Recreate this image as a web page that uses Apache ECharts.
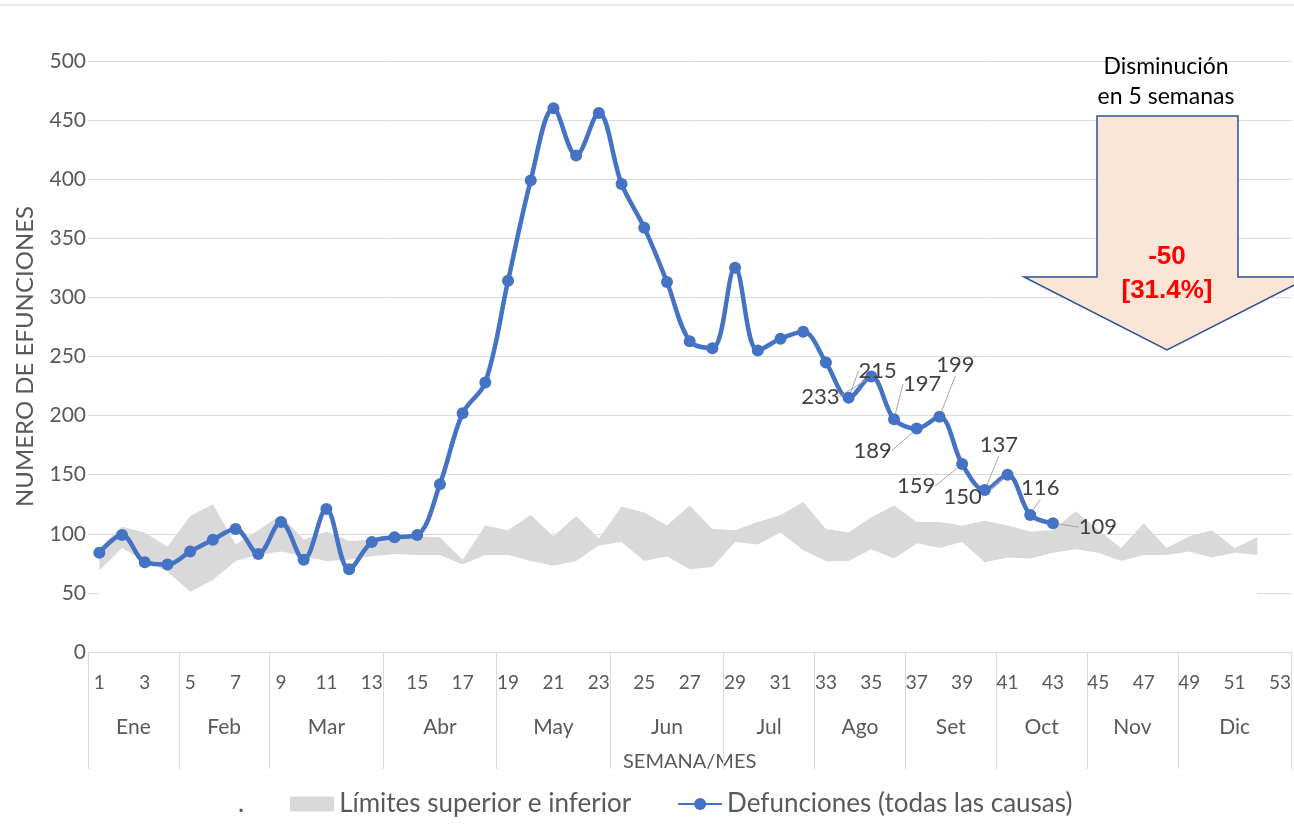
<!DOCTYPE html>
<html>
<head>
<meta charset="utf-8">
<script src="https://cdn.jsdelivr.net/npm/echarts@6/dist/echarts.min.js"></script>
<style>
  html, body { margin: 0; padding: 0; background: #fff; }
  #main { width: 1294px; height: 837px; }
</style>
</head>
<body>
<div id="main"></div>
<script>
// semanas 1..53
const weeks = ['1','2','3','4','5','6','7','8','9','10','11','12','13','14','15','16','17','18','19','20',
  '21','22','23','24','25','26','27','28','29','30','31','32','33','34','35','36','37','38','39','40',
  '41','42','43','44','45','46','47','48','49','50','51','52','53']

const months = ['Ene','Feb','Mar','Abr','May','Jun','Jul','Ago','Set','Oct','Nov','Dic']
// primera semana (índice) de cada mes, y fin de año
const monthStarts = [0, 4, 8, 13, 18, 23, 28, 32, 36, 40, 44, 48, 53]

// Defunciones (todas las causas), semanas 1-43
const deaths = [84, 99, 76, 74, 85, 95, 104, 83, 110, 78,
  121, 70, 93, 97, 99, 142, 202, 228, 314, 399,
  460, 420, 456, 396, 359, 313, 263, 257, 325, 255,
  265, 271, 245, 215, 233, 197, 189, 199, 159, 137,
  150, 116, 109]

// límites inferior / superior, semanas 1-52
const lowerLimit = [69, 88, 77, 68, 51, 61, 77, 82, 85, 81,
  77, 78, 81, 83, 82, 82, 74, 82, 82, 77,
  73, 77, 90, 93, 77, 81, 70, 72, 93, 91,
  101, 86, 77, 77, 87, 79, 92, 88, 93, 76,
  80, 79, 84, 87, 84, 77, 82, 82, 85, 80,
  84, 82]
const upperLimit = [88, 106, 101, 89, 115, 125, 91, 103, 116, 95,
  102, 94, 95, 98, 98, 97, 78, 107, 103, 116,
  98, 115, 96, 123, 118, 107, 124, 104, 103, 110,
  116, 127, 104, 101, 114, 124, 110, 110, 107, 111,
  107, 102, 103, 119, 103, 88, 109, 88, 98, 103,
  88, 97]

// semanas con etiqueta de dato (desde este índice)
const labeledFrom = 33

const font = 'Lato'

const chart = echarts.init(document.getElementById('main'))

const monthCenters = months.map((m, i) => (monthStarts[i] + monthStarts[i + 1]) / 2)
const bandDiff = upperLimit.map((u, i) => u - lowerLimit[i])

// desplazamiento de etiquetas (dx, dy) respecto al punto
const labelOffsets = {
  33: [29, -27], 34: [-51, 20], 35: [28, -35], 36: [-44, 22], 37: [16, -52],
  38: [-46, 22], 39: [14, -45], 40: [-45, 22], 41: [10, -27], 42: [45, 4]
}

const deathData = deaths.map((v, i) => i >= labeledFrom ? { value: v, label: { show: true } } : v)

const option = {
  backgroundColor: '#fff',
  animation: false,
  textStyle: { fontFamily: font },
  grid: { left: 88, right: 0, top: 61, bottom: 185 },
  legend: {
    left: 184,
    top: 786,
    itemGap: 46,
    itemWidth: 44,
    itemHeight: 15,
    textStyle: { color: '#595959', fontSize: 26, fontFamily: font },
    data: [
      { name: '.', icon: 'rect', itemStyle: { color: '#fff' } },
      { name: 'Límites superior e inferior', icon: 'rect', itemStyle: { color: '#d9d9d9' } },
      { name: 'Defunciones (todas las causas)' }
    ]
  },
  xAxis: [{
    type: 'category',
    data: weeks,
    boundaryGap: true,
    axisLine: { lineStyle: { color: '#d9d9d9' } },
    axisTick: { show: false },
    axisLabel: { interval: 1, color: '#595959', fontSize: 19, margin: 21 },
    name: 'SEMANA/MES',
    nameLocation: 'middle',
    nameGap: 100,
    nameTextStyle: { color: '#595959', fontSize: 20 }
  }, {
    type: 'value',
    min: 0,
    max: 53,
    position: 'bottom',
    axisLine: { show: false },
    splitLine: { show: false },
    axisTick: { show: true, customValues: monthStarts, length: 117, lineStyle: { color: '#d9d9d9' } },
    axisLabel: {
      customValues: monthCenters,
      formatter: (v) => months[monthCenters.indexOf(v)],
      color: '#595959',
      fontSize: 21,
      margin: 65
    }
  }],
  yAxis: {
    type: 'value',
    min: 0,
    max: 500,
    interval: 50,
    axisLine: { show: false },
    axisTick: { show: false },
    splitLine: { lineStyle: { color: '#d9d9d9' } },
    axisLabel: { color: '#595959', fontSize: 21, margin: 2 },
    name: 'NUMERO DE EFUNCIONES',
    nameLocation: 'middle',
    nameGap: 51,
    nameTextStyle: { color: '#595959', fontSize: 24 }
  },
  series: [{
    name: '.',
    type: 'line',
    data: lowerLimit,
    stack: 'band',
    symbol: 'none',
    silent: true,
    lineStyle: { width: 0 },
    itemStyle: { color: '#fff' },
    areaStyle: { color: '#fff', opacity: 1 },
    z: 1
  }, {
    name: 'Límites superior e inferior',
    type: 'line',
    data: bandDiff,
    stack: 'band',
    symbol: 'none',
    silent: true,
    lineStyle: { width: 0 },
    itemStyle: { color: '#d9d9d9' },
    areaStyle: { color: '#d9d9d9', opacity: 1 },
    z: 1
  }, {
    name: 'Defunciones (todas las causas)',
    type: 'line',
    data: deathData,
    smooth: 0.35,
    symbol: 'circle',
    symbolSize: 12,
    itemStyle: { color: '#4472c4' },
    lineStyle: { color: '#4472c4', width: 4.5 },
    label: { show: false, position: 'inside', color: '#404040', fontSize: 22, fontFamily: font },
    labelLine: { show: true, lineStyle: { color: '#a6a6a6', width: 1 } },
    labelLayout: (p) => {
      const o = labelOffsets[p.dataIndex]
      return o ? { dx: o[0], dy: o[1] } : {}
    },
    z: 3
  }],
  graphic: [{
    type: 'line',
    shape: { x1: 0, y1: 5, x2: 1294, y2: 5 },
    style: { stroke: '#d9d9d9', lineWidth: 1 }
  }, {
    type: 'polygon',
    z: 10,
    shape: { points: [[1097, 116], [1238, 116], [1238, 277], [1310, 277], [1167, 350], [1024, 277], [1097, 277]] },
    style: { fill: '#fbe5d6', stroke: '#2f528f', lineWidth: 1.5 }
  }, {
    type: 'text',
    z: 11,
    x: 1166, y: 67,
    style: { text: 'Disminución', fill: '#000', font: '23px Lato', align: 'center', verticalAlign: 'middle' }
  }, {
    type: 'text',
    z: 11,
    x: 1166, y: 97,
    style: { text: 'en 5 semanas', fill: '#000', font: '23px Lato', align: 'center', verticalAlign: 'middle' }
  }, {
    type: 'text',
    z: 11,
    x: 1167, y: 257,
    style: { text: '-50', fill: '#ff0000', font: 'bold 26px "Liberation Sans"', align: 'center', verticalAlign: 'middle' }
  }, {
    type: 'text',
    z: 11,
    x: 1167, y: 291,
    style: { text: '[31.4%]', fill: '#ff0000', font: 'bold 26px "Liberation Sans"', align: 'center', verticalAlign: 'middle' }
  }]
}

chart.setOption(option)

window.addEventListener('resize', () => {
  chart.resize()
})
</script>
</body>
</html>
